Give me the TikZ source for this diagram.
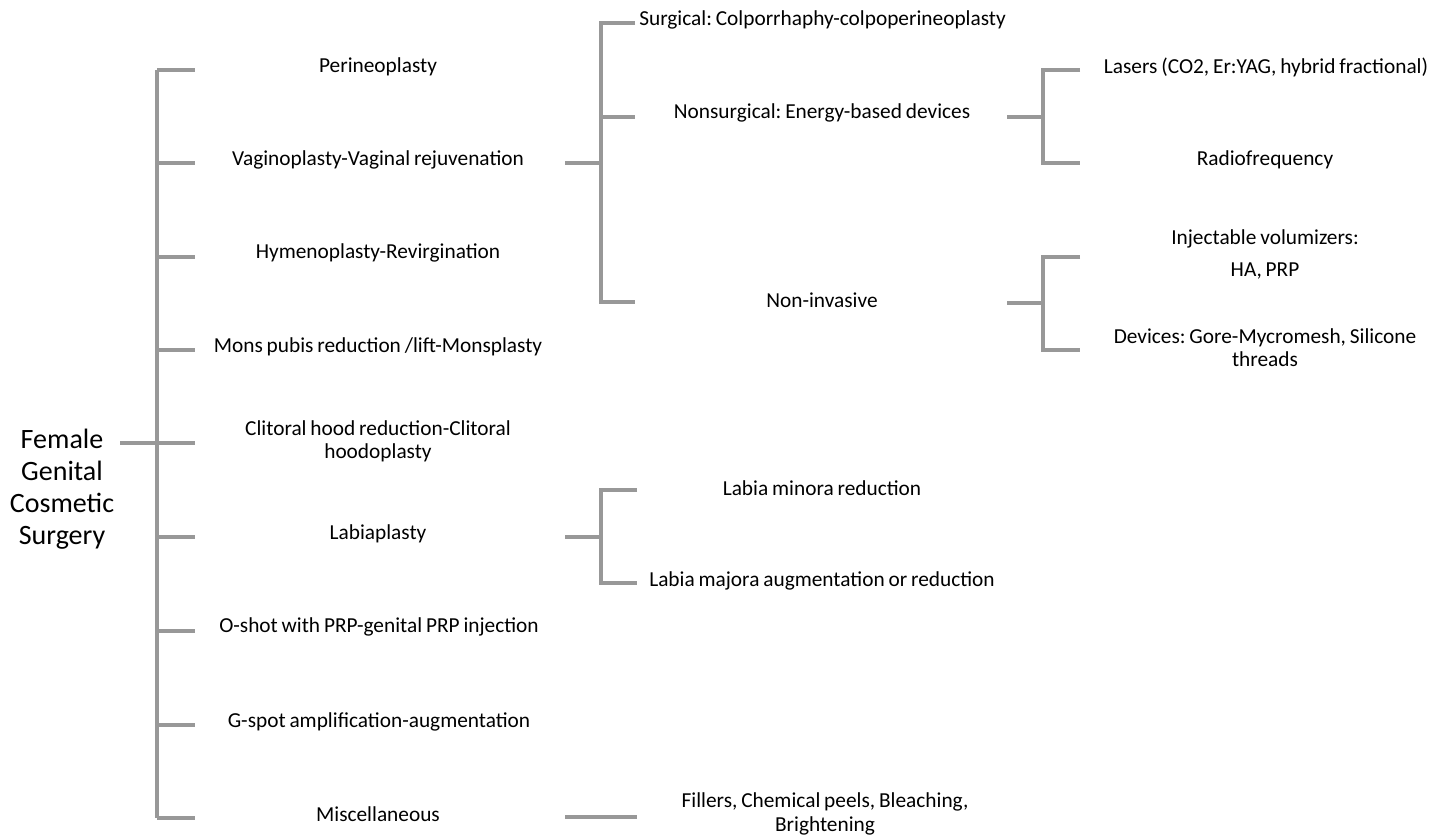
\documentclass[tikz,border=0pt]{standalone}
\usepackage{fontspec}
\setmainfont{Carlito}[WordSpace=0.8]
\frenchspacing
\definecolor{lc}{RGB}{152,152,152}
\begin{document}
\begin{tikzpicture}[x=0.75pt,y=-0.75pt,
  conn/.style={draw=lc,line width=2.3pt},
  lbl/.style={inner sep=0pt,font=\fontsize{16}{17.5}\selectfont,align=center},
  rootlbl/.style={inner sep=0pt,font=\fontsize{21}{24}\selectfont,align=center}]
\useasboundingbox (0,0) rectangle (1445,835);
% root
\node[rootlbl] (root) at (62,489) {Female\\Genital\\Cosmetic\\Surgery};
\coordinate (rj) at (120,443);
% trunk
\coordinate (tt) at (157,70);
\coordinate (tb) at (157,818);
\coordinate (tm) at (157,443);
\foreach \i/\y in {1/70,2/163,3/257,4/350,5/443,6/537,7/631,8/725,9/818}{
  \coordinate (a\i) at (157,\y);
  \coordinate (b\i) at (195,\y);
}
% level 1 labels
\node[lbl] (perineo) at (378,67) {Perineoplasty};
\node[lbl] (vagino) at (378,160) {Vaginoplasty-Vaginal rejuvenation};
\node[lbl] (hymeno) at (378,253) {Hymenoplasty-Revirgination};
\node[lbl] (mons) at (378,347) {Mons pubis reduction /lift-Monsplasty};
\node[lbl] (clit) at (378,441) {Clitoral hood reduction-Clitoral\\hoodoplasty};
\node[lbl] (labia) at (378,534) {Labiaplasty};
\node[lbl] (oshot) at (379,627) {O-shot with PRP-genital PRP injection};
\node[lbl] (gspot) at (379,722) {G-spot amplification-augmentation};
\node[lbl] (misc) at (378,814) {Miscellaneous};
% vaginoplasty subtree
\coordinate (v0) at (565,163);
\coordinate (v1) at (601,163);
\coordinate (vt) at (601,23);
\coordinate (vb) at (601,302);
\coordinate (vm) at (601,117);
\coordinate (vs1) at (635,23);
\coordinate (vs2) at (635,117);
\coordinate (vs3) at (635,302);
\node[lbl,anchor=west] (surg) at (639,20) {Surgical: Colporrhaphy-colpoperineoplasty};
\node[lbl] (nonsurg) at (822,113) {Nonsurgical: Energy-based devices};
\node[lbl] (noninv) at (822,300) {Non-invasive};
% nonsurgical subtree
\coordinate (n0) at (1007,117);
\coordinate (n1) at (1043,117);
\coordinate (nt) at (1043,70);
\coordinate (nb) at (1043,163);
\coordinate (ns1) at (1080,70);
\coordinate (ns2) at (1080,163);
\node[lbl] (lasers) at (1266,67) {Lasers (CO2, Er:YAG, hybrid fractional)};
\node[lbl] (radio) at (1265,160) {Radiofrequency};
% non-invasive subtree
\coordinate (i0) at (1007,303);
\coordinate (i1) at (1043,303);
\coordinate (it) at (1043,257);
\coordinate (ib) at (1043,350);
\coordinate (is1) at (1080,257);
\coordinate (is2) at (1080,350);
\node[lbl] (inject) at (1265,254) {Injectable volumizers:\\[6.5pt]HA, PRP};
\node[lbl] (devices) at (1265,348) {Devices: Gore-Mycromesh, Silicone\\threads};
% labiaplasty subtree
\coordinate (l0) at (565,537);
\coordinate (l1) at (601,537);
\coordinate (lt) at (601,490);
\coordinate (lb) at (601,583);
\coordinate (ls1) at (637,490);
\coordinate (ls2) at (637,583);
\node[lbl] (minora) at (822,488) {Labia minora reduction};
\node[lbl] (majora) at (822,581) {Labia majora augmentation or reduction};
% misc
\coordinate (m0) at (565,817);
\coordinate (m1) at (637,817);
\node[lbl] (fillers) at (825,814) {Fillers, Chemical peels, Bleaching,\\Brightening};
% connectors
\draw[conn] (rj) -- (tm);
\draw[conn] (tt) -- (tb);
\foreach \i in {1,...,9}{\draw[conn] (a\i) -- (b\i);}
\draw[conn] (v0) -- (v1);
\draw[conn] (vs1) -- (vt) -- (vb) -- (vs3);
\draw[conn] (vm) -- (vs2);
\draw[conn] (n0) -- (n1);
\draw[conn] (ns1) -- (nt) -- (nb) -- (ns2);
\draw[conn] (i0) -- (i1);
\draw[conn] (is1) -- (it) -- (ib) -- (is2);
\draw[conn] (l0) -- (l1);
\draw[conn] (ls1) -- (lt) -- (lb) -- (ls2);
\draw[conn] (m0) -- (m1);
\end{tikzpicture}
\end{document}
